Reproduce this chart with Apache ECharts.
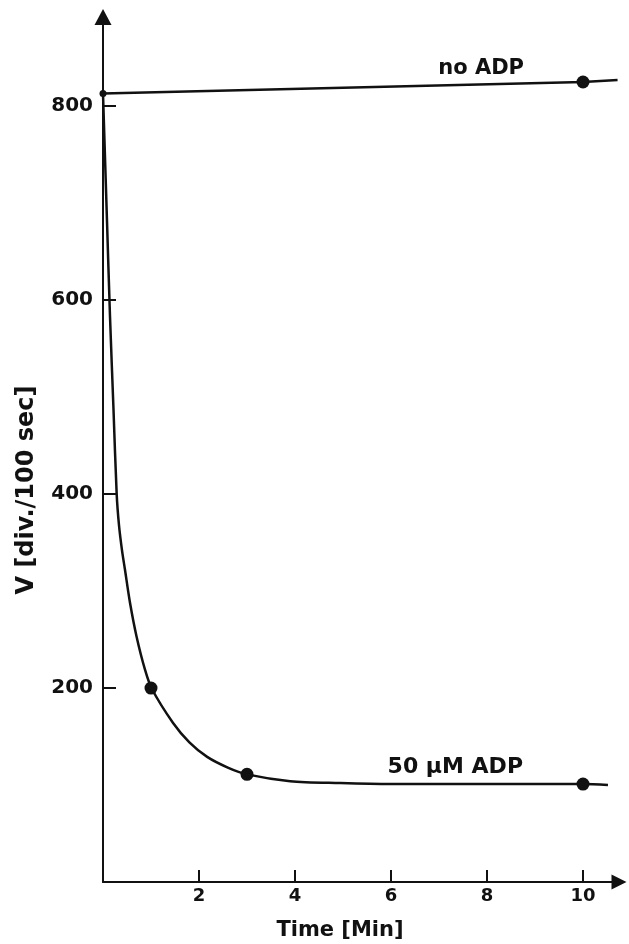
<!DOCTYPE html>
<html>
<head>
<meta charset="utf-8">
<script src="https://cdn.jsdelivr.net/npm/echarts@6/dist/echarts.min.js"></script>
<style>
  html, body { margin: 0; padding: 0; background: #fff; }
  #chart { width: 629px; height: 944px; }
</style>
</head>
<body>
<div id="chart"></div>
<script>
// tick labels
const timeTicks = [2, 4, 6, 8, 10];
const vTicks = [200, 400, 600, 800];

// no ADP: straight line, slight rise
const noAdpT = [0, 10, 10.72];
const noAdpV = [813, 825, 827];
const noAdpPtsT = [0, 10];
const noAdpPtsV = [813, 825];

// 50 uM ADP: fitted decay curve
const adpT = [0, 0.083, 0.146, 0.219, 0.285, 0.333, 0.396, 0.458, 0.5625, 0.70, 0.875, 1.02, 1.46, 1.8, 2.17, 2.6, 3.0, 3.9, 4.94, 6, 8, 10, 10.52];
const adpV = [813, 682, 583, 487, 400, 368, 342, 322, 288, 253, 219, 199, 164, 144, 129, 118, 111, 104, 102, 101, 101, 101, 100];
const adpPtsT = [1, 3, 10];
const adpPtsV = [200, 111, 101];

const ink = "#111";
const font = "DejaVu Sans";
const zip = (a, b) => a.map((v, i) => [v, b[i]]);

const chart = echarts.init(document.getElementById("chart"), null, { renderer: "canvas" });

chart.setOption({
  backgroundColor: "#fff",
  animation: false,
  grid: { left: 103, top: 17, right: 10, bottom: 62, containLabel: false },
  xAxis: {
    type: "value", min: 0, max: 10.75,
    axisLine: { show: true, symbol: ["none", "triangle"], symbolSize: [15, 15], lineStyle: { color: ink, width: 2 } },
    axisTick: { show: true, inside: true, length: 12, lineStyle: { color: ink, width: 2 }, customValues: timeTicks },
    axisLabel: { customValues: timeTicks, color: ink, fontFamily: font, fontWeight: "bold", fontSize: 18, margin: 5 },
    splitLine: { show: false }
  },
  yAxis: {
    type: "value", min: 0, max: 892,
    axisLine: { show: true, symbol: ["none", "triangle"], symbolSize: [17, 16], lineStyle: { color: ink, width: 2 } },
    axisTick: { show: true, inside: true, length: 13, lineStyle: { color: ink, width: 2 }, customValues: vTicks },
    axisLabel: { customValues: vTicks, color: ink, fontFamily: font, fontWeight: "bold", fontSize: 20, margin: 10 },
    splitLine: { show: false }
  },
  series: [
    {
      name: "no ADP", type: "line", data: zip(noAdpT, noAdpV),
      showSymbol: false, lineStyle: { color: ink, width: 2.5 }, z: 3
    },
    {
      name: "50 µM ADP", type: "line", data: zip(adpT, adpV),
      smooth: 0.3,
      showSymbol: false, lineStyle: { color: ink, width: 2.5 }, z: 3
    },
    {
      type: "scatter", data: zip(adpPtsT, adpPtsV).concat(zip(noAdpPtsT.slice(1), noAdpPtsV.slice(1))),
      symbol: "circle", symbolSize: 13, itemStyle: { color: ink, opacity: 1 }, z: 4
    },
    {
      type: "scatter", data: zip(noAdpPtsT.slice(0, 1), noAdpPtsV.slice(0, 1)),
      symbol: "circle", symbolSize: 7, itemStyle: { color: ink, opacity: 1 }, z: 4
    }
  ],
  graphic: [
    {
      type: "text", x: 524, y: 79,
      style: { text: "no ADP", fill: ink, font: "bold 21px '" + font + "'", textAlign: "right", textVerticalAlign: "bottom" }
    },
    {
      type: "text", x: 523, y: 778,
      style: { text: "50 µM ADP", fill: ink, font: "bold 22px '" + font + "'", textAlign: "right", textVerticalAlign: "bottom" }
    },
    {
      type: "text", x: 340, y: 931,
      style: { text: "Time [Min]", fill: ink, font: "bold 21px '" + font + "'", textAlign: "center", textVerticalAlign: "middle" }
    },
    {
      type: "text", x: 27, y: 490, rotation: Math.PI / 2,
      style: { text: "V [div./100 sec]", fill: ink, font: "bold 24px '" + font + "'", textAlign: "center", textVerticalAlign: "middle" }
    }
  ]
});
</script>
</body>
</html>
